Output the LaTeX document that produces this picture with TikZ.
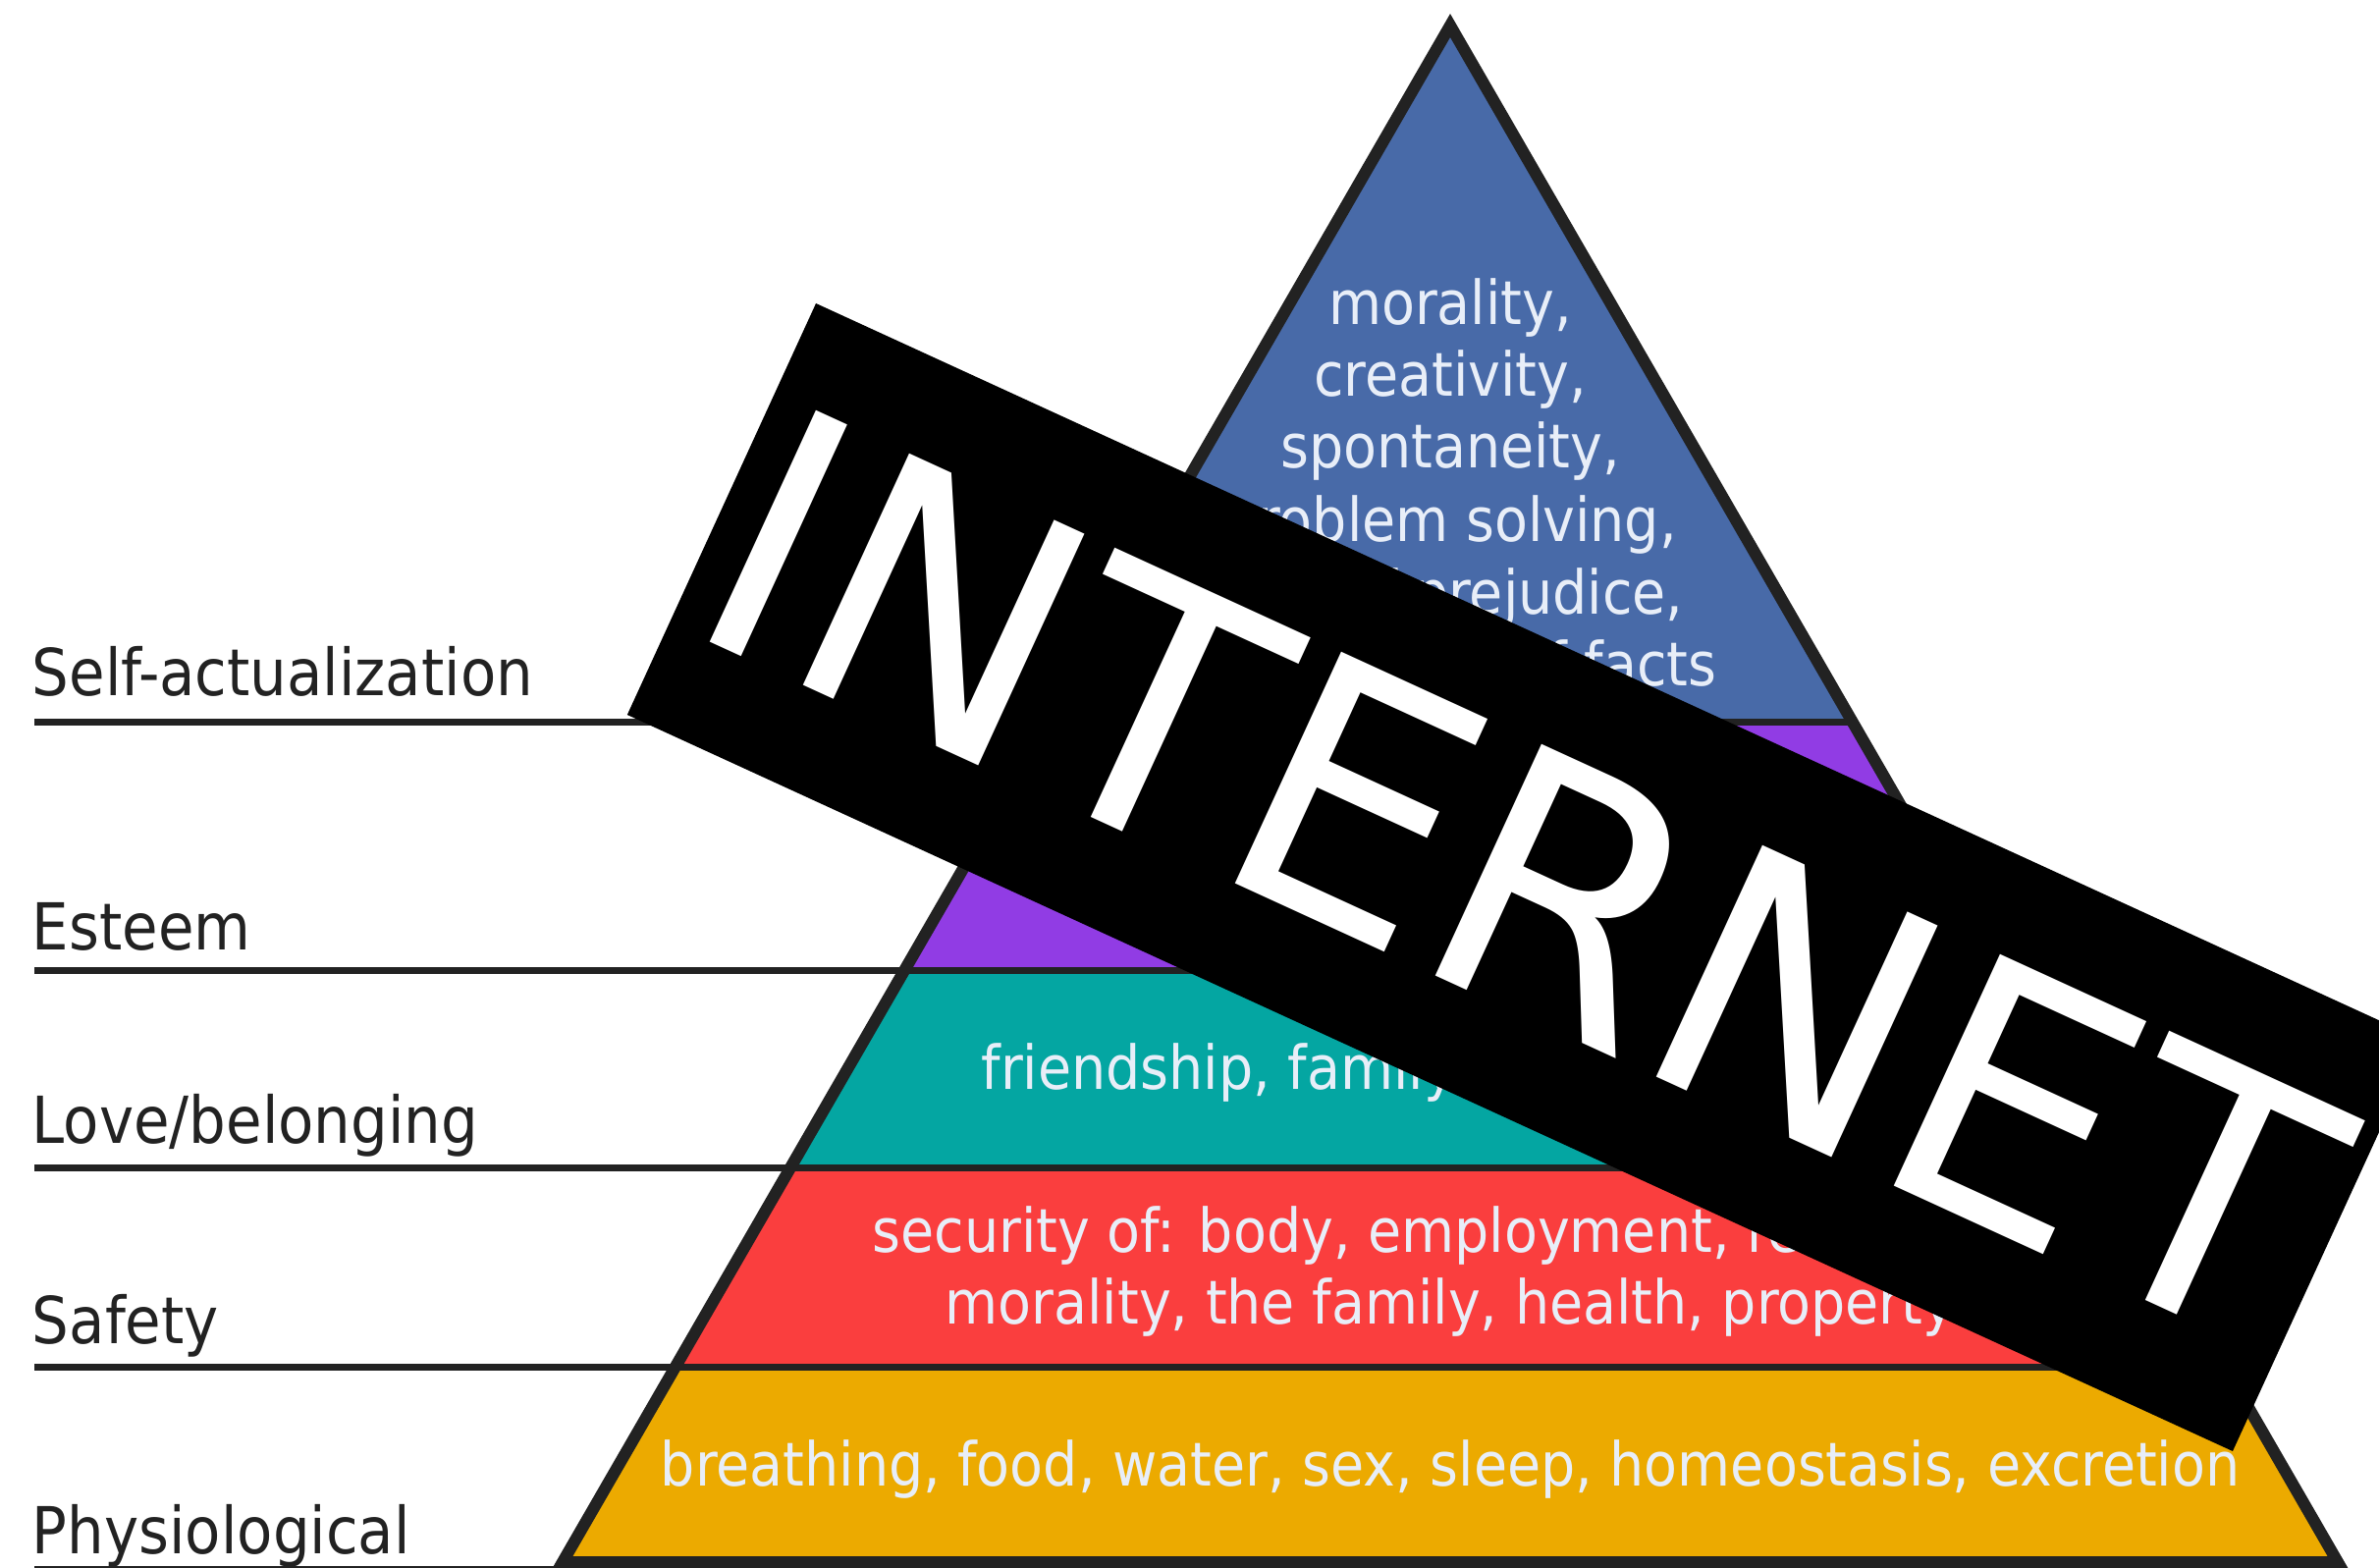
\documentclass[tikz,border=0pt]{standalone}
\usepackage{fontspec}
\newfontfamily\dinfont{DejaVu Sans Condensed}
\newfontfamily\bannerfont{DejaVu Sans}

\begin{document}
\begin{tikzpicture}[x=0.3pt,y=0.3pt,
  levelline/.style={draw=drawColor,line width=2.1pt},
  levellabel/.style={text=drawColor,anchor=base west,inner sep=0pt,outer sep=0pt,font=\dinfont\fontsize{19.8}{23}\selectfont},
  needtext/.style={text=textColor,anchor=base,inner sep=0pt,outer sep=0pt,font=\dinfont\fontsize{18.5}{22}\selectfont}]
\definecolor{drawColor}{RGB}{34,34,34}
\definecolor{textColor}{RGB}{232,238,248}
\definecolor{selfFill}{RGB}{72,106,168}
\definecolor{esteemFill}{RGB}{145,60,228}
\definecolor{loveFill}{RGB}{4,166,162}
\definecolor{safetyFill}{RGB}{250,62,62}
\definecolor{bodyFill}{RGB}{236,170,0}
\path[use as bounding box,fill=white] (0,0) rectangle (2423,1596);

% pyramid bands
\begin{scope}
\path[clip] (1477,1570) -- (573,5) -- (2381,5) -- cycle;
\path[fill=bodyFill] (0,0) rectangle (2423,204);
\path[fill=safetyFill] (0,204) rectangle (2423,407);
\path[fill=loveFill] (0,407) rectangle (2423,608);
\path[fill=esteemFill] (0,608) rectangle (2423,861);
\path[fill=selfFill] (0,861) rectangle (2423,1596);
\end{scope}

\node[needtext] (self1) at (1477,1265) {morality,};
\node[needtext] (self2) at (1477,1192) {creativity,};
\node[needtext] (self3) at (1477,1119) {spontaneity,};
\node[needtext] (self4) at (1477,1045) {problem solving,};
\node[needtext] (self5) at (1477, 971) {lack of prejudice,};
\node[needtext] (self6) at (1477, 898) {acceptance of facts};

\node[needtext] (love1) at (1477, 487) {friendship, family, sexual intimacy};

\node[needtext] (safety1) at (1477, 321) {security of: body, employment, resources,};
\node[needtext] (safety2) at (1477, 248) {morality, the family, health, property};

\node[needtext] (body1) at (1477,  83) {breathing, food, water, sex, sleep, homeostasis, excretion};

% level lines
\path[levelline] (35,861) -- (1886.5,861);
\path[levelline] (35,608) -- (2032.7,608);
\path[levelline] (35,407) -- (2148.7,407);
\path[levelline] (35,204) -- (2266.0,204);
\path[levelline] (35, -2) -- (573,-2);

\path[draw=drawColor,line width=3.6pt,line join=miter] (1477,1570) -- (573,5) -- (2381,5) -- cycle;

\node[levellabel] (selfLabel) at (33,888) {Self-actualization};
\node[levellabel] (esteemLabel) at (33,629) {Esteem};
\node[levellabel] (loveLabel) at (33,432) {Love/belonging};
\node[levellabel] (safetyLabel) at (33,228) {Safety};
\node[levellabel] (bodyLabel) at (33, 14) {Physiological};

% banner
\begin{scope}[shift={(1552.5,702.5)},rotate=-24.64]
\path[fill=black] (-899.5,-230.5) rectangle (899.5,230.5);
\node[text=white,anchor=base,inner sep=0pt,outer sep=0pt,transform shape,
  font=\bannerfont\fontsize{106.8}{120}\selectfont] (banner) at (-4,-128.5) {INTERNET};
\end{scope}
\end{tikzpicture}
\end{document}
